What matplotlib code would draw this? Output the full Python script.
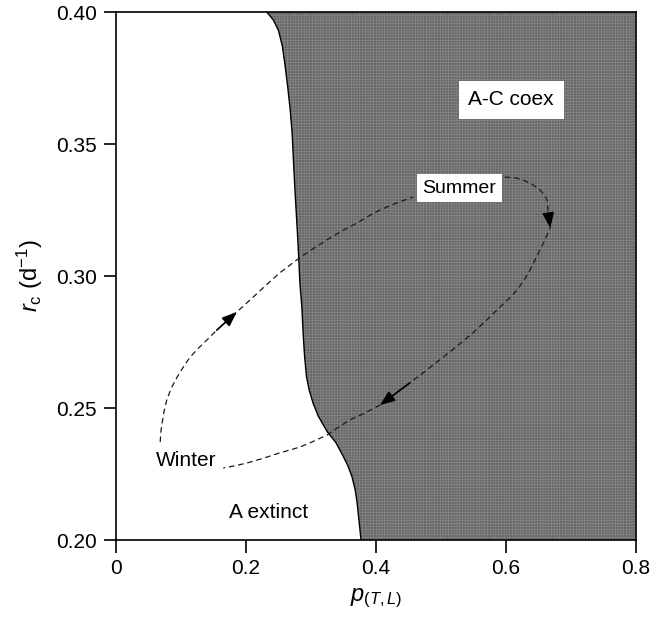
import matplotlib
matplotlib.use("Agg")
import matplotlib.pyplot as plt

plt.rcParams['font.family'] = ['Liberation Sans', 'DejaVu Sans']
plt.rcParams['mathtext.fontset'] = 'custom'
plt.rcParams['mathtext.rm'] = 'Liberation Sans'
plt.rcParams['mathtext.it'] = 'Liberation Sans:italic'
plt.rcParams['hatch.linewidth'] = 0.35

# boundary between "A extinct" and "A-C coex" regions
bound_p = [0.232, 0.242, 0.250, 0.256, 0.260, 0.264, 0.268, 0.271, 0.275, 0.280,
           0.283, 0.286, 0.288, 0.290, 0.293, 0.297, 0.303, 0.311, 0.325, 0.338,
           0.349, 0.357, 0.363, 0.368, 0.371, 0.374, 0.377]
bound_r = [0.400, 0.397, 0.393, 0.387, 0.380, 0.372, 0.363, 0.354, 0.334, 0.3125,
           0.297, 0.288, 0.278, 0.270, 0.262, 0.257, 0.252, 0.247, 0.241, 0.237,
           0.232, 0.228, 0.224, 0.219, 0.214, 0.207, 0.200]

# seasonal trajectory, winter -> summer (upper branch)
up_p = [0.068, 0.069, 0.071, 0.074, 0.078, 0.085, 0.094, 0.104, 0.114, 0.127, 0.140,
        0.155, 0.186, 0.211, 0.232, 0.252, 0.283, 0.306, 0.329, 0.350, 0.371, 0.390,
        0.406, 0.432, 0.457]
up_r = [0.2371, 0.2410, 0.2443, 0.2488, 0.2530, 0.2575, 0.2617, 0.2657, 0.2693, 0.2727,
        0.2758, 0.2795, 0.2864, 0.2920, 0.2968, 0.3012, 0.3070, 0.3108, 0.3144, 0.3174,
        0.3201, 0.3229, 0.3250, 0.3277, 0.3299]

# summer -> winter (lower branch)
down_p = [0.598, 0.614, 0.626, 0.640, 0.652, 0.659, 0.663, 0.665, 0.668, 0.663, 0.658,
          0.652, 0.645, 0.637, 0.628, 0.617, 0.605, 0.591, 0.571, 0.549, 0.524, 0.498,
          0.475, 0.452, 0.406, 0.382, 0.360, 0.342, 0.325, 0.303, 0.283, 0.252, 0.227,
          0.202, 0.183, 0.165]
down_r = [0.3375, 0.3372, 0.3364, 0.3348, 0.3326, 0.3308, 0.3288, 0.3239, 0.3182, 0.3155,
          0.3127, 0.3098, 0.3062, 0.3023, 0.2985, 0.2947, 0.2915, 0.2883, 0.2835, 0.2784,
          0.2733, 0.2682, 0.2638, 0.2595, 0.2511, 0.2480, 0.2455, 0.2427, 0.2398, 0.2373,
          0.2352, 0.2330, 0.2310, 0.2292, 0.2281, 0.2273]

# arrow heads as (index of start, index of tip) on each branch
up_arrows = [(11, 12)]
down_arrows = [(7, 8), (23, 24)]

x_ticks = [0, 0.2, 0.4, 0.6, 0.8]
x_labels = ['0', '0.2', '0.4', '0.6', '0.8']
y_ticks = [0.20, 0.25, 0.30, 0.35, 0.40]
y_labels = ['0.20', '0.25', '0.30', '0.35', '0.40']

fig = plt.figure(figsize=(6.65, 6.19), dpi=100)
ax = fig.add_axes([116 / 665, 79 / 619, 520 / 665, 528 / 619])

# shaded coexistence region
ax.fill_betweenx(bound_r, bound_p, 0.8, facecolor='#686868', edgecolor='#8e8e8e',
                 hatch='++++++', linewidth=0)
ax.plot(bound_p, bound_r, color='black', lw=1.0)

ax.plot(up_p, up_r, color='#1a1a1a', lw=0.9, linestyle=(0, (4.5, 3)))
ax.plot(down_p, down_r, color='#1a1a1a', lw=0.9, linestyle=(0, (4.5, 3)))

for i, j in up_arrows:
    ax.annotate('', xy=(up_p[j], up_r[j]), xytext=(up_p[i], up_r[i]),
                arrowprops=dict(arrowstyle='-|>,head_length=0.9,head_width=0.35',
                                color='black', lw=1.2, shrinkA=0, shrinkB=0))
for i, j in down_arrows:
    ax.annotate('', xy=(down_p[j], down_r[j]), xytext=(down_p[i], down_r[i]),
                arrowprops=dict(arrowstyle='-|>,head_length=0.9,head_width=0.35',
                                color='black', lw=1.2, shrinkA=0, shrinkB=0))

ax.text(0.528, 0.3333, 'Summer', fontsize=14, ha='center', va='center',
        bbox=dict(facecolor='white', edgecolor='none', pad=4))
ax.text(0.608, 0.3667, 'A-C coex', fontsize=15, ha='center', va='center',
        bbox=dict(facecolor='white', edgecolor='none', pad=7))
ax.text(0.108, 0.2303, 'Winter', fontsize=15, ha='center', va='center')
ax.text(0.235, 0.2106, 'A extinct', fontsize=15, ha='center', va='center')

ax.set_xlim(0, 0.8)
ax.set_ylim(0.20, 0.40)
ax.set_xticks(x_ticks)
ax.set_xticklabels(x_labels)
ax.set_yticks(y_ticks)
ax.set_yticklabels(y_labels)
ax.tick_params(direction='out', length=9, width=1.2, labelsize=15, pad=5,
               top=False, right=False)
for s in ax.spines.values():
    s.set_linewidth(1.2)

ax.set_xlabel(r'$p_{(T,L)}$', fontsize=17)
ax.set_ylabel(r'$r_{\mathrm{c}}$ (d$^{-1}$)', fontsize=17)
ax.xaxis.set_label_coords(0.5, -0.088)
ax.yaxis.set_label_coords(-0.137, 0.5)

fig.savefig('out.png', dpi=100)
